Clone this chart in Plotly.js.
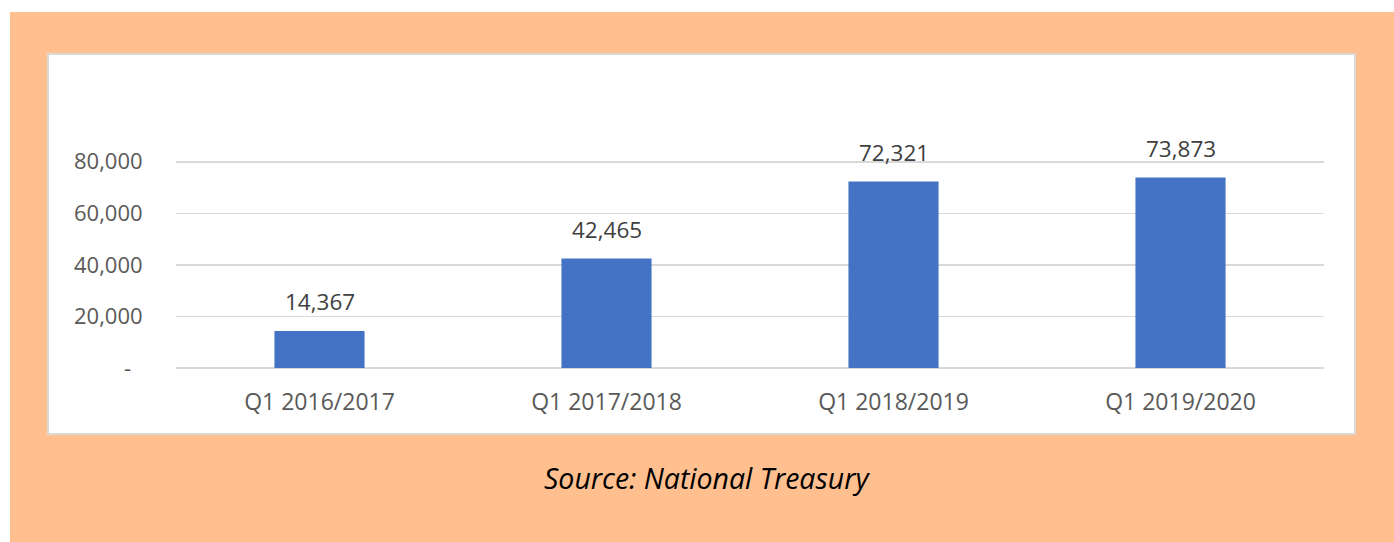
<!DOCTYPE html>
<html>
<head>
<meta charset="utf-8">
<script src="https://cdn.plot.ly/plotly-3.0.1.min.js"></script>
<style>
  html, body { margin: 0; padding: 0; background: #ffffff; }
  #chart { position: absolute; left: 10px; top: 12px; width: 1384px; height: 530px; }
</style>
</head>
<body>
<div id="chart"></div>
<script>
const categories = ["Q1 2016/2017", "Q1 2017/2018", "Q1 2018/2019", "Q1 2019/2020"];
const values = [14367, 42465, 72321, 73873];
const labels = ["14,367", "42,465", "72,321", "73,873"];
const yTickVals = [0, 20000, 40000, 60000, 80000];
const yTickText = ["-\u00a0\u00a0", "20,000", "40,000", "60,000", "80,000"];
const sourceText = "Source: National Treasury";

// layout geometry (pixels within the chart div)
const W = 1384, H = 530;
const mL = 166, mR = 70, mT = 124, mB = 174;
const pw = W - mL - mR, ph = H - mT - mB;
const px = v => (v - mL) / pw;
const py = v => (H - mB - v) / ph;

const trace = {
  type: "bar",
  x: categories,
  y: values,
  marker: { color: "#4472C4" },
  hoverinfo: "skip"
};

const annotations = categories.map((c, i) => ({
  x: c, y: values[i], xref: "x", yref: "y",
  text: labels[i], showarrow: false,
  yanchor: "middle", yshift: 29,
  font: { family: "Open Sans, sans-serif", size: 22.5, color: "#404040" }
}));
annotations.push({
  xref: "paper", yref: "paper", x: px(697), y: py(466),
  xanchor: "center", yanchor: "middle", showarrow: false,
  text: "<i>" + sourceText + "</i>",
  font: { family: "Open Sans, sans-serif", size: 28.5, color: "#000000" }
});

const layout = {
  width: W, height: H,
  margin: { l: mL, r: mR, t: mT, b: mB, pad: 0 },
  paper_bgcolor: "#FFBF8F",
  plot_bgcolor: "rgba(0,0,0,0)",
  showlegend: false,
  bargap: 0.686,
  font: { family: "Open Sans, sans-serif", size: 22, color: "#595959" },
  xaxis: {
    type: "category",
    showgrid: false, zeroline: false, showline: false,
    ticks: "outside", ticklen: 13, tickcolor: "rgba(0,0,0,0)",
    tickfont: { family: "Open Sans, sans-serif", size: 23, color: "#595959" }
  },
  yaxis: {
    range: [0, 90000],
    tickvals: yTickVals, ticktext: yTickText,
    showgrid: true, gridcolor: "#D9D9D9", gridwidth: 1.5,
    zeroline: true, zerolinecolor: "#D9D9D9", zerolinewidth: 1.5,
    showline: false,
    ticks: "outside", ticklen: 28, tickcolor: "rgba(0,0,0,0)",
    tickfont: { family: "Open Sans, sans-serif", size: 22, color: "#595959" }
  },
  shapes: [{
    type: "rect", layer: "below",
    xref: "paper", yref: "paper",
    x0: px(38), x1: px(1345), y0: py(422), y1: py(42),
    fillcolor: "#FFFFFF",
    line: { color: "#D9D9D9", width: 2 }
  }],
  annotations: annotations
};

Plotly.newPlot("chart", [trace], layout, { displayModeBar: false, staticPlot: true });
</script>
</body>
</html>
